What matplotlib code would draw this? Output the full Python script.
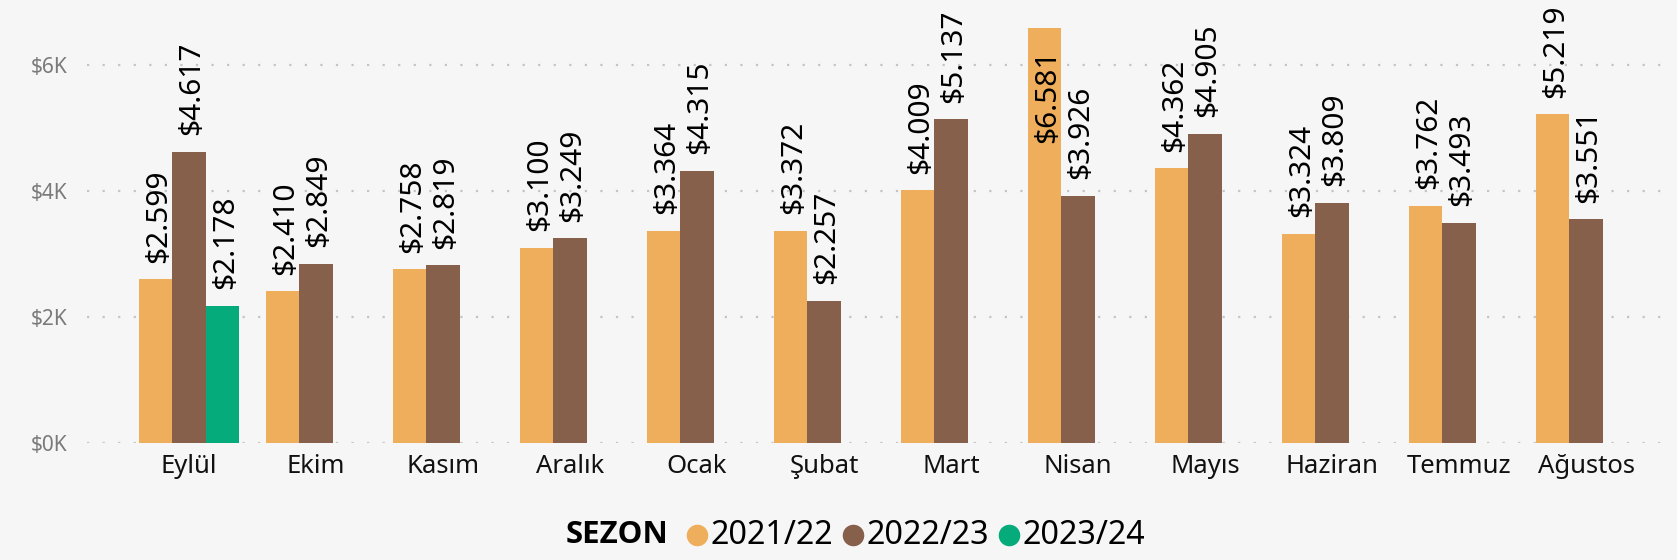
import matplotlib
matplotlib.use("Agg")
import matplotlib.pyplot as plt
from matplotlib.lines import Line2D
from matplotlib.ticker import FuncFormatter

# ---- data ----
months = ["Eylül", "Ekim", "Kasım", "Aralık", "Ocak", "Şubat", "Mart",
          "Nisan", "Mayıs", "Haziran", "Temmuz", "Ağustos"]
seasons = ["2021/22", "2022/23", "2023/24"]
s2122 = [2599, 2410, 2758, 3100, 3364, 3372, 4009, 6581, 4362, 3324, 3762, 5219]
s2223 = [4617, 2849, 2819, 3249, 4315, 2257, 5137, 3926, 4905, 3809, 3493, 3551]
s2324 = [2178, None, None, None, None, None, None, None, None, None, None, None]
colors = ["#EEAE5B", "#86604A", "#06AB7B"]

plt.rcParams['font.family'] = ['Noto Sans', 'DejaVu Sans']

W, H = 1677, 560
fig = plt.figure(figsize=(W / 100, H / 100), dpi=100)
bg = "#f6f6f7"
fig.patch.set_facecolor(bg)
ax = fig.add_axes([87 / W, 117 / H, (1670 - 87) / W, 441 / H])
ax.set_facecolor(bg)

ymax = 7000
w = 0.264
for j, vals in enumerate([s2122, s2223, s2324]):
    for i, v in enumerate(vals):
        if v is None:
            continue
        x = i + (j - 1) * w
        ax.bar(x, v, width=w, color=colors[j], zorder=2)
        lab = "$" + f"{v:,}".replace(",", ".")
        if v > 6000:  # no room above -> label inside the bar end
            ax.annotate(lab, (x, v), xytext=(2, -15), textcoords="offset points",
                        rotation=90, ha="center", va="top", fontsize=21.5,
                        color="black", annotation_clip=False)
        else:
            ax.annotate(lab, (x, v), xytext=(2, 12), textcoords="offset points",
                        rotation=90, ha="center", va="bottom", fontsize=21.5,
                        color="black", annotation_clip=False)

ax.set_xlim(-0.803, 11.66)
ax.set_ylim(0, ymax)
ax.set_yticks([0, 2000, 4000, 6000])
ax.yaxis.set_major_formatter(FuncFormatter(lambda v, p: f"${int(v / 1000)}K"))
ax.set_xticks(range(len(months)))
ax.set_xticklabels(months, fontsize=18.5, color="#111111")
ax.tick_params(axis="x", length=0, pad=8)
ax.tick_params(axis="y", length=0, pad=14, labelsize=15, labelcolor="#7a7a7a")
ax.grid(axis="y", linestyle=(0, (1, 6)), linewidth=1.6, color="#c4c4c4", zorder=0)
for s in ax.spines.values():
    s.set_visible(False)

# legend (drawn by hand: title on the left, dot + text per season)
ly = 25 / H
fig.text(566 / W, ly, "SEZON", fontsize=22.5, fontweight="bold",
         family=["Open Sans", "DejaVu Sans"], va="center", ha="left")
for k, (name, c) in enumerate(zip(seasons, colors)):
    cx = 697 + 156 * k
    fig.add_artist(Line2D([cx / W], [ly], marker="o", linestyle="", markersize=14.5,
                          markerfacecolor=c, markeredgecolor=c,
                          transform=fig.transFigure))
    fig.text((cx + 14) / W, ly, name, fontsize=23.3, va="center", ha="left")

fig.savefig("out.png", dpi=100, facecolor=bg)
